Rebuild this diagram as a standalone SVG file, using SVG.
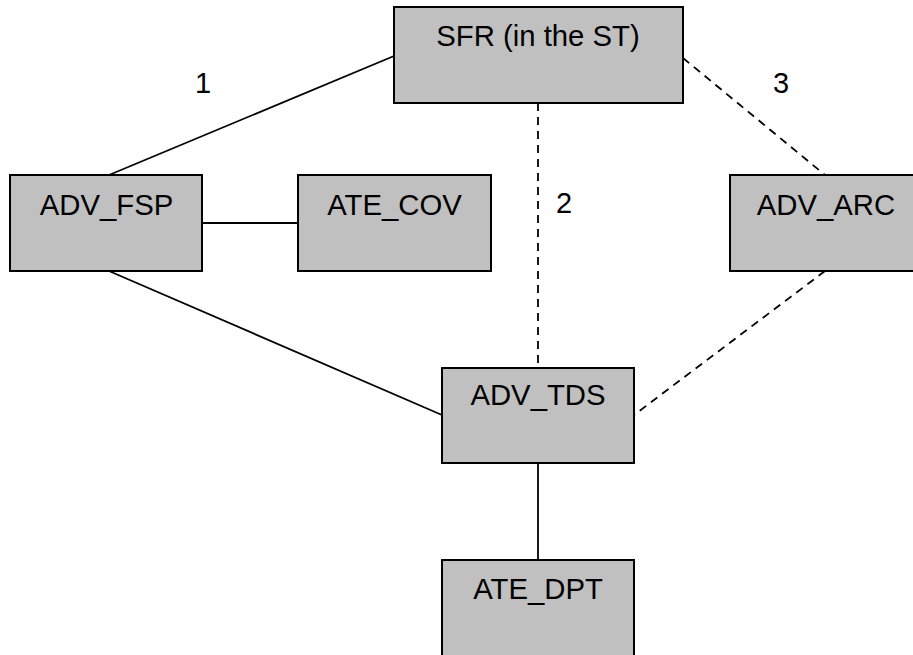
<svg xmlns="http://www.w3.org/2000/svg" width="913" height="655" viewBox="0 0 913 655">
<style>
.box{fill:#c0c0c0;stroke:#000;stroke-width:2}
.lbl{font-family:"Liberation Sans",Arial,sans-serif;font-size:29.3px;fill:#000;text-anchor:middle}
.num{font-family:"Liberation Sans",Arial,sans-serif;font-size:29px;fill:#000}
.ln{stroke:#000;stroke-width:1.8;fill:none}
.dash{stroke:#000;stroke-width:1.8;fill:none;stroke-dasharray:8 6}
</style>
<rect width="913" height="655" fill="#fff"/>
<g id="connectors">
<line class="ln" x1="394" y1="56" x2="109" y2="175"/>
<line class="ln" x1="202" y1="223" x2="298" y2="223"/>
<line class="ln" x1="109" y1="271" x2="442" y2="415"/>
<line class="dash" x1="538" y1="103" x2="538" y2="368"/>
<line class="dash" x1="683" y1="58" x2="825" y2="175"/>
<line class="dash" x1="825" y1="271" x2="634" y2="415"/>
<line class="ln" x1="538" y1="463" x2="538" y2="560"/>
</g>
<g id="labels">
<text class="num" x="195" y="93">1</text>
<text class="num" x="556" y="213">2</text>
<text class="num" x="773" y="93">3</text>
</g>
<g id="SFR">
<rect class="box" x="394" y="7" width="289" height="96"/>
<text class="lbl" x="538" y="46">SFR (in the ST)</text>
</g>
<g id="ADV_FSP">
<rect class="box" x="10" y="175" width="192" height="96"/>
<text class="lbl" x="106.5" y="215">ADV_FSP</text>
</g>
<g id="ATE_COV">
<rect class="box" x="298" y="175" width="193" height="96"/>
<text class="lbl" x="394.5" y="215">ATE_COV</text>
</g>
<g id="ADV_ARC">
<rect class="box" x="730" y="175" width="192" height="96"/>
<text class="lbl" x="826" y="215">ADV_ARC</text>
</g>
<g id="ADV_TDS">
<rect class="box" x="442" y="368" width="192" height="95"/>
<text class="lbl" x="538" y="405">ADV_TDS</text>
</g>
<g id="ATE_DPT">
<rect class="box" x="442" y="560" width="192" height="100"/>
<text class="lbl" x="538" y="599">ATE_DPT</text>
</g>
</svg>
